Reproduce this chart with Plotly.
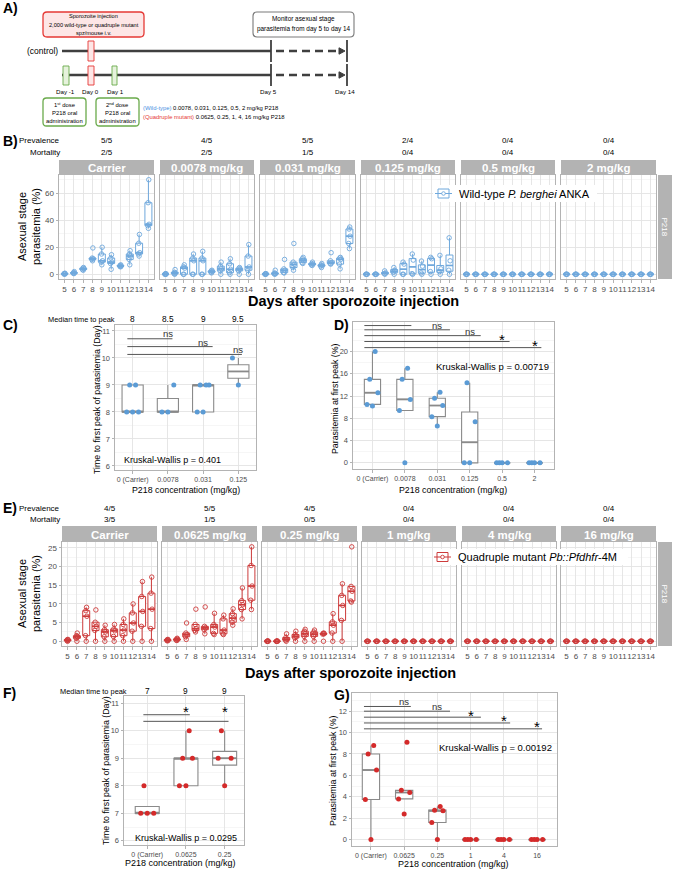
import numpy as np
import plotly.graph_objects as go

W, H = 673, 874
FONT = "Liberation Sans, Arial, Helvetica, sans-serif"

# ======================= DATA =======================
days = [5, 6, 7, 8, 9, 10, 11, 12, 13, 14]
day_labels = ["5", "6", "7", "8", "9", "10", "11", "12", "13", "14"]

# ---- Panel B: wild-type P. berghei ANKA, parasitemia (%) per day, one value per mouse
wt_facets = ["Carrier", "0.0078 mg/kg", "0.031 mg/kg", "0.125 mg/kg", "0.5 mg/kg", "2 mg/kg"]
wt_prevalence = ["5/5", "4/5", "5/5", "2/4", "0/4", "0/4"]
wt_mortality = ["2/5", "2/5", "1/5", "0/4", "0/4", "0/4"]

wt_carrier = [
    [0.1, 0.2, 0.3, 0.5, 0.8], [0.5, 0.8, 1.0, 1.2, 2.0], [3.0, 3.5, 4.0, 4.5, 5.0],
    [10.0, 11.0, 11.5, 12.0, 19.5], [7.0, 9.0, 10.0, 15.0, 20.0], [3.7, 8.0, 9.0, 12.0, 14.5],
    [5.5, 6.0, 6.0, 6.5, 7.0], [7.0, 11.0, 13.5, 15.0, 17.5], [13.5, 15.0, 16.0, 23.0, 29.5],
    [34.0, 36.0, 37.0, 53.0, 70.0],
]
wt_0078 = [
    [0.0, 0.0, 0.1, 0.2, 0.5], [0.0, 0.5, 1.0, 1.5, 3.5], [0.0, 0.0, 4.5, 5.5, 7.0],
    [0.0, 0.0, 10.0, 12.0, 15.0], [0.0, 0.0, 10.0, 12.0, 17.0], [1.0, 1.5, 2.0, 2.5, 3.0],
    [0.0, 2.5, 4.0, 6.0, 9.0], [0.0, 1.2, 3.7, 7.8, 11.5], [0.0, 2.5, 3.7, 4.4, 5.0],
    [0.0, 3.0, 5.4, 13.5, 22.0],
]
wt_031 = [
    [0.0, 0.0, 0.2, 0.3, 0.5], [0.0, 0.3, 0.5, 1.0, 3.0], [1.0, 1.2, 3.0, 4.0, 11.0],
    [3.0, 5.0, 7.3, 9.0, 22.8], [8.0, 8.6, 10.3, 11.5, 12.5], [6.5, 7.0, 7.5, 8.0, 9.0],
    [5.0, 6.0, 6.5, 7.0, 8.0], [7.5, 8.0, 8.5, 10.0, 16.0], [4.0, 7.5, 11.0, 12.0, 12.5],
    [19.0, 22.8, 28.2, 33.5, 35.0],
]
wt_0125 = [
    [0.0, 0.0, 0.0, 0.0], [0.0, 0.0, 0.0, 0.1], [0.0, 0.5, 1.0, 2.5],
    [0.0, 1.5, 3.0, 5.0], [0.0, 0.0, 7.5, 9.0], [0.0, 0.5, 10.5, 15.0],
    [0.0, 1.0, 6.0, 9.8], [0.0, 2.0, 11.5, 12.5], [0.0, 2.0, 4.0, 14.0],
    [0.0, 3.0, 10.0, 27.0],
]
wt_05 = [
    [0, 0, 0, 0], [0, 0, 0, 0], [0, 0, 0, 0], [0, 0, 0, 0], [0, 0, 0, 0],
    [0, 0, 0, 0], [0, 0, 0, 0], [0, 0, 0, 0], [0, 0, 0, 0], [0, 0, 0, 0],
]
wt_2 = [
    [0, 0, 0, 0], [0, 0, 0, 0], [0, 0, 0, 0], [0, 0, 0, 0], [0, 0, 0, 0],
    [0, 0, 0, 0], [0, 0, 0, 0], [0, 0, 0, 0], [0, 0, 0, 0], [0, 0, 0, 0],
]

# ---- Panel C: time to first peak (day), wild-type
c_doses = ["0 (Carrier)", "0.0078", "0.031", "0.125"]
c_median_time = ["8", "8.5", "9", "9.5"]
c_peak_day = [[8, 8, 8, 9, 9], [8, 8, 9], [8, 8, 9, 9, 9], [9, 10]]
c_signif = ["ns", "ns", "ns"]
c_kw = "Kruskal-Wallis p = 0.401"

# ---- Panel D: parasitemia at first peak (%), wild-type
d_doses = ["0 (Carrier)", "0.0078", "0.031", "0.125", "0.5", "2"]
d_peak_para = [[10.2, 10.5, 12.6, 15.0, 20.0], [0.0, 9.4, 11.4, 15.0, 17.0],
               [6.6, 8.3, 10.3, 11.6, 12.7], [0.0, 0.0, 7.4, 14.4],
               [0, 0, 0, 0], [0, 0, 0, 0]]
d_signif = ["ns", "ns", "ns", "*", "*"]
d_kw = "Kruskal-Wallis p = 0.00719"

# ---- Panel E: quadruple mutant Pb::Pfdhfr-4M
mut_facets = ["Carrier", "0.0625 mg/kg", "0.25 mg/kg", "1 mg/kg", "4 mg/kg", "16 mg/kg"]
mut_prevalence = ["4/5", "5/5", "4/5", "0/4", "0/4", "0/4"]
mut_mortality = ["3/5", "1/5", "0/5", "0/4", "0/4", "0/4"]

mut_carrier = [
    [0.0, 0.2, 0.3, 0.4, 0.5], [0.0, 0.8, 1.2, 1.5, 2.2], [0.0, 1.5, 6.7, 8.2, 9.1],
    [0.0, 2.9, 4.0, 5.1, 8.4], [0.0, 1.2, 2.5, 3.1, 4.3], [0.0, 1.3, 2.8, 3.3, 4.5],
    [0.0, 1.5, 3.0, 4.5, 6.0], [0.0, 2.7, 4.9, 7.6, 10.0], [0.0, 4.0, 8.0, 12.0, 16.0],
    [0.0, 3.4, 8.6, 12.9, 17.2],
]
mut_00625 = [
    [0.1, 0.2, 0.3, 0.4, 0.5], [0.2, 0.3, 0.5, 0.6, 0.8], [0.5, 1.2, 1.8, 2.2, 4.9],
    [2.5, 2.9, 3.4, 4.5, 8.6], [2.0, 3.1, 3.6, 4.0, 9.2], [1.8, 2.1, 3.8, 4.5, 7.5],
    [1.8, 2.0, 3.0, 6.0, 7.0], [4.3, 5.1, 6.2, 7.4, 8.7], [6.0, 8.5, 9.8, 10.9, 14.3],
    [8.5, 11.0, 14.8, 20.3, 25.3],
]
mut_025 = [
    [0.0, 0.0, 0.0, 0.0, 0.1], [0.0, 0.0, 0.0, 0.0, 0.1], [0.0, 0.3, 0.5, 1.0, 2.0],
    [0.0, 0.9, 1.3, 1.8, 2.7], [0.0, 1.3, 2.0, 2.7, 3.2], [0.0, 1.3, 1.9, 2.5, 3.0],
    [0.0, 1.9, 2.0, 2.1, 2.2], [0.0, 2.2, 4.3, 5.2, 7.4], [0.0, 5.6, 9.6, 12.3, 15.4],
    [10.5, 10.8, 13.4, 14.7, 25.3],
]
mut_1 = [
    [0, 0, 0, 0], [0, 0, 0, 0], [0, 0, 0, 0], [0, 0, 0, 0], [0, 0, 0, 0],
    [0, 0, 0, 0], [0, 0, 0, 0], [0, 0, 0, 0], [0, 0, 0, 0], [0, 0, 0, 0],
]
mut_4 = [
    [0, 0, 0, 0], [0, 0, 0, 0], [0, 0, 0, 0], [0, 0, 0, 0], [0, 0, 0, 0],
    [0, 0, 0, 0], [0, 0, 0, 0], [0, 0, 0, 0], [0, 0, 0, 0], [0, 0, 0, 0],
]
mut_16 = [
    [0, 0, 0, 0], [0, 0, 0, 0], [0, 0, 0, 0], [0, 0, 0, 0], [0, 0, 0, 0],
    [0, 0, 0, 0], [0, 0, 0, 0], [0, 0, 0, 0], [0, 0, 0, 0], [0, 0, 0, 0],
]

# ---- Panel F: time to first peak (day), mutant
f_doses = ["0 (Carrier)", "0.0625", "0.25"]
f_median_time = ["7", "9", "9"]
f_peak_day = [[7, 7, 7, 8], [8, 8, 9, 9, 10], [8, 9, 9, 10]]
f_signif = ["*", "*"]
f_kw = "Kruskal-Wallis p = 0.0295"

# ---- Panel G: parasitemia at first peak (%), mutant
g_doses = ["0 (Carrier)", "0.0625", "0.25", "1", "4", "16"]
g_peak_para = [[0.0, 3.75, 6.5, 8.0, 8.8], [2.4, 3.8, 4.4, 4.6, 9.1],
               [0.0, 1.6, 2.7, 2.75, 3.1], [0, 0, 0, 0], [0, 0, 0, 0], [0, 0, 0, 0]]
g_signif = ["ns", "ns", "*", "*", "*"]
g_kw = "Kruskal-Wallis p = 0.00192"

# ======================= STYLE / GEOMETRY =======================
WT_BOX = "#6fa8dc"
WT_DOT = "#5b9bd5"
MUT_BOX = "#cd3b3b"
MUT_DOT = "#d42a2a"
SUM_BOX = "#8a8a8a"
GRID = "#e3e3e3"
MINOR = "#f0f0f0"
BORDER = "#b3b3b3"
TICKC = "#4d4d4d"
STRIP = "#b3b3b3"

B_X = [(59, 154), (160, 254), (260, 355), (361, 455), (461, 555), (561, 656)]
B_Y = (175, 279)
B_STRIP = (160, 175)
E_X = [(62, 157), (162, 257), (262, 357), (362, 456), (462, 556), (561, 656)]
E_Y = (542, 646)
E_STRIP = (526, 542)

fig = go.Figure()
axes = {}
shapes = []
annotations = []


def ref(i, a):
    return a if i == 1 else f"{a}{i}"


def key(i, a):
    return f"{a}axis" if i == 1 else f"{a}axis{i}"


def set_axes(i, xd, yd, xrange, xvals, xtext, yrange, ydtick, yminor, yvals=None, show_y=True,
             fs=8, yfs=8):
    common = dict(showline=True, mirror=True, linecolor=BORDER, linewidth=1, zeroline=False,
                  showgrid=True, gridcolor=GRID, gridwidth=0.9,
                  ticklen=2.5, tickwidth=1, tickcolor=BORDER, fixedrange=True, tickangle=0)
    axes[key(i, "x")] = dict(common, domain=[xd[0] / W, xd[1] / W], anchor=ref(i, "y"),
                             range=xrange, tickmode="array", tickvals=xvals, ticktext=xtext,
                             ticks="outside", tickfont=dict(family=FONT, size=fs, color=TICKC))
    ya = dict(common, domain=[1 - yd[1] / H, 1 - yd[0] / H], anchor=ref(i, "x"), range=yrange,
              showticklabels=show_y, ticks="outside" if show_y else "",
              tickfont=dict(family=FONT, size=yfs, color=TICKC),
              minor=dict(tickmode="linear", tick0=0, dtick=yminor, showgrid=True,
                         gridcolor=MINOR, gridwidth=0.6, ticks=""))
    if yvals is None:
        ya.update(tickmode="linear", tick0=0, dtick=ydtick)
    else:
        ya.update(tickmode="array", tickvals=yvals)
    axes[key(i, "y")] = ya


def box_stats(vals):
    v = np.sort(np.asarray(vals, dtype=float))
    q1, med, q3 = np.percentile(v, [25, 50, 75])
    iqr = q3 - q1
    lo = v[v >= q1 - 1.5 * iqr].min()
    hi = v[v <= q3 + 1.5 * iqr].max()
    return q1, med, q3, lo, hi


def add_boxes(i, pos, groups, color, width, lw=1.0, mlw=1.8):
    st = [box_stats(g) for g in groups]
    q1, med, q3, lo, hi = (list(t) for t in zip(*st))
    fig.add_trace(go.Box(x=list(pos), q1=q1, median=med, q3=q3, lowerfence=lo, upperfence=hi,
                         width=width, whiskerwidth=0, boxpoints=False, fillcolor="white",
                         line=dict(color=color, width=lw), xaxis=ref(i, "x"), yaxis=ref(i, "y"),
                         showlegend=False, hoverinfo="skip"))
    mx, my = [], []
    for p, m in zip(pos, med):
        mx += [p - width / 2, p + width / 2, None]
        my += [m, m, None]
    fig.add_trace(go.Scatter(x=mx, y=my, mode="lines", line=dict(color=color, width=mlw),
                             xaxis=ref(i, "x"), yaxis=ref(i, "y"), showlegend=False,
                             hoverinfo="skip"))


JIT = [0.0, -0.6, 0.6, -0.3, 0.3, -0.85, 0.85]


def add_points(i, pos, groups, spread, color, symbol, size, lw=1.0):
    xs, ys = [], []
    for p, g in zip(pos, groups):
        for k, v in enumerate(g):
            xs.append(p + spread * JIT[k % len(JIT)])
            ys.append(v)
    fig.add_trace(go.Scatter(x=xs, y=ys, mode="markers",
                             marker=dict(symbol=symbol, size=size, color=color,
                                         line=dict(color=color, width=lw)),
                             xaxis=ref(i, "x"), yaxis=ref(i, "y"), showlegend=False,
                             hoverinfo="skip"))


def ann(text, x, y, size=9, color="black", xanchor="center", yanchor="middle", bold=False,
        xref="paper", yref="paper", textangle=0, **kw):
    if bold:
        text = f"<b>{text}</b>"
    if xref == "paper":
        x = x / W
    if yref == "paper":
        y = 1 - y / H
    annotations.append(dict(text=text, x=x, y=y, xref=xref, yref=yref, showarrow=False,
                            xanchor=xanchor, yanchor=yanchor, textangle=textangle,
                            font=dict(family=FONT, size=size, color=color), **kw))


def px2p(x, y):
    return x / W, 1 - y / H


def rect(x0, y0, x1, y1, fill="rgba(0,0,0,0)", line=None, lw=1):
    a, b = px2p(x0, y1)
    c, d = px2p(x1, y0)
    shapes.append(dict(type="rect", xref="paper", yref="paper", x0=a, y0=b, x1=c, y1=d,
                       fillcolor=fill,
                       line=dict(color=line or "rgba(0,0,0,0)", width=lw if line else 0),
                       layer="above"))


def line(x0, y0, x1, y1, color="#3f3f3f", lw=1, dash="solid"):
    a, b = px2p(x0, y0)
    c, d = px2p(x1, y1)
    shapes.append(dict(type="line", xref="paper", yref="paper", x0=a, y0=b, x1=c, y1=d,
                       line=dict(color=color, width=lw, dash=dash), layer="above"))


def path_px(pts, fill, color, lw=1):
    s = "M " + " L ".join(f"{x / W:.5f},{1 - y / H:.5f}" for x, y in pts) + " Z"
    shapes.append(dict(type="path", xref="paper", yref="paper", path=s, fillcolor=fill,
                       line=dict(color=color, width=lw), layer="above"))


def rrect(x0, y0, x1, y1, r, fill, color, lw):
    def P(x, y):
        return f"{x / W:.5f},{1 - y / H:.5f}"
    s = (f"M {P(x0 + r, y0)} L {P(x1 - r, y0)} Q {P(x1, y0)} {P(x1, y0 + r)} "
         f"L {P(x1, y1 - r)} Q {P(x1, y1)} {P(x1 - r, y1)} L {P(x0 + r, y1)} "
         f"Q {P(x0, y1)} {P(x0, y1 - r)} L {P(x0, y0 + r)} Q {P(x0, y0)} {P(x0 + r, y0)} Z")
    shapes.append(dict(type="path", xref="paper", yref="paper", path=s, fillcolor=fill,
                       line=dict(color=color, width=lw), layer="above"))


def bracket(i, x0, x1, y, color="#555555", lw=1):
    shapes.append(dict(type="line", xref=ref(i, "x"), yref=ref(i, "y"), x0=x0, x1=x1, y0=y, y1=y,
                       line=dict(color=color, width=lw), layer="above"))


def signif_label(i, x, y, text):
    if text == "*":
        ann(text, x, y, size=15, xref=ref(i, "x"), yref=ref(i, "y"), yshift=-3)
    else:
        ann(text, x, y, size=9.5, color="#333333", xref=ref(i, "x"), yref=ref(i, "y"))


# ======================= PANEL A (schematic) =======================
RED = "#e53935"
GREEN = "#6aaa4b"
DARK = "#3f3f3f"
ann("A)", 1, 8, 14, bold=True, xanchor="left")
rrect(43, 12, 144, 37, 4, "#fde6e6", RED, 1.3)
ann("Sporozoite injection", 93.5, 16.5, 5.6)
ann("2,000 wild-type or quadruple mutant", 93.5, 25, 5.6)
ann("spz/mouse i.v.", 93.5, 33, 5.6)
rrect(253, 12, 354, 37, 4, "white", "#7a7a7a", 1.1)
ann("Monitor asexual stage", 303.5, 19, 6.4)
ann("parasitemia from day 5 to day 14", 303.5, 29.5, 6.4)

for ly, (t0, t1) in [(51, (40, 62)), (75, (64, 86))]:
    line(62, ly, 271, ly, DARK, 2.4)
    line(271, t0, 271, t1, DARK, 1.8)
    line(276, ly, 339, ly, DARK, 2.4, dash="8px,5px")
    path_px([(339, ly - 3.2), (345, ly), (339, ly + 3.2)], DARK, DARK, 1)
    line(347, t0, 347, t1, DARK, 1.8)
ann("(control)", 60, 51, 8.5, xanchor="right")
rect(88, 41, 94, 61, "#fde6e6", RED, 0.9)
rect(63, 66, 69, 85, "#e6f2dc", GREEN, 0.9)
rect(88, 66, 94, 85, "#fde6e6", RED, 0.9)
rect(112, 66, 117, 85, "#e6f2dc", GREEN, 0.9)
for txt, xx in [("Day -1", 65, ), ("Day 0", 90), ("Day 1", 115), ("Day 5", 268), ("Day 14", 345)]:
    ann(txt, xx, 91, 6.2)
for cx, ordl in [(64.5, "1<sup>st</sup> dose"), (117.5, "2<sup>nd</sup> dose")]:
    rrect(cx - 21.5, 98, cx + 21.5, 126, 3.5, "white", GREEN, 1.3)
    ann(ordl, cx, 104, 5.9)
    ann("P218 oral", cx, 113, 5.9)
    ann("administration", cx, 121.5, 5.9)
ann("<span style='color:#4a90e2'>(Wild-type)</span> 0.0078, 0.031, 0.125, 0.5, 2 mg/kg P218",
    141, 108.3, 5.9, xanchor="left")
ann("<span style='color:#e53935'>(Quadruple mutant)</span> 0.0625, 0.25, 1, 4, 16 mg/kg P218",
    141, 117.5, 5.9, xanchor="left")


# ======================= FACETED TIME-COURSE PANELS =======================
def faceted(first_axis, xdoms, ydom, strip, facets, groups_list, prev, mort, yrange, ydtick,
            yminor, box_color, lab_y):
    for k, (xd, groups) in enumerate(zip(xdoms, groups_list)):
        i = first_axis + k
        set_axes(i, xd, ydom, [4.4, 14.6], days, day_labels, yrange, ydtick, yminor,
                 show_y=(k == 0), fs=8, yfs=8)
        add_boxes(i, days, groups, box_color, 0.75, lw=1.0, mlw=1.6)
        add_points(i, days, groups, 0.12, box_color, "circle-open", 4.5, lw=0.9)
        rect(xd[0], strip[0], xd[1], strip[1], STRIP)
        ann(facets[k], (xd[0] + xd[1]) / 2, (strip[0] + strip[1]) / 2 + 0.5, 11.5, color="white",
            bold=True)
        ann(prev[k], 0.5, lab_y[0], 8, xref=f"{ref(i, 'x')} domain")
        ann(mort[k], 0.5, lab_y[1], 8, xref=f"{ref(i, 'x')} domain")
    ann("Prevalence", 62, lab_y[0], 8, xanchor="right")
    ann("Mortality", 62, lab_y[1], 8, xanchor="right")
    rect(658, ydom[0], 672, ydom[1], STRIP)
    ann("P218", 664.5, (ydom[0] + ydom[1]) / 2, 8, color="white", textangle=90)


# ---- B
ann("B)", 1, 141, 14, bold=True, xanchor="left")
faceted(1, B_X, B_Y, B_STRIP, wt_facets, [wt_carrier, wt_0078, wt_031, wt_0125, wt_05, wt_2],
        wt_prevalence, wt_mortality, [-3.5, 73.5], 20, 10, WT_BOX, (141, 152))
ann("Asexual stage<br>parasitemia (%)", 29, 227, 11, textangle=-90)
ann("Days after sporozoite injection", 353, 300.5, 14.5, bold=True)
rect(433, 185, 597, 202, "white")
line(435, 193.5, 452, 193.5, WT_BOX, 1)
rect(438, 189, 449, 198, "white", WT_BOX, 1)
line(438, 193.5, 449, 193.5, WT_BOX, 1)
shapes.append(dict(type="circle", xref="paper", yref="paper", x0=441.7 / W, x1=445.3 / W,
                   y0=1 - 195.3 / H, y1=1 - 191.7 / H, line=dict(color=WT_BOX, width=0.9),
                   fillcolor="white", layer="above"))
ann("Wild-type <i>P. berghei</i> ANKA", 457, 193.5, 11, xanchor="left")

# ---- E
ann("E)", 1, 508, 14, bold=True, xanchor="left")
faceted(9, E_X, E_Y, E_STRIP, mut_facets, [mut_carrier, mut_00625, mut_025, mut_1, mut_4, mut_16],
        mut_prevalence, mut_mortality, [-1.27, 26.6], 5, 2.5, MUT_BOX, (508, 519))
ann("Asexual stage<br>parasitemia (%)", 29, 594, 11, textangle=-90)
ann("Days after sporozoite injection", 350, 672.5, 14.5, bold=True)
rect(433, 549, 628, 565, "white")
line(434, 557, 451, 557, MUT_BOX, 1)
rect(437, 552.5, 448, 561.5, "white", MUT_BOX, 1)
line(437, 557, 448, 557, MUT_BOX, 1)
shapes.append(dict(type="circle", xref="paper", yref="paper", x0=440.7 / W, x1=444.3 / W,
                   y0=1 - 558.8 / H, y1=1 - 555.2 / H, line=dict(color=MUT_BOX, width=0.9),
                   fillcolor="white", layer="above"))
ann("Quadruple mutant <i>Pb::Pfdhfr</i>-4M", 456, 557, 11, xanchor="left")


# ======================= SUMMARY PANELS =======================
def summary(i, xd, yd, cats, groups, xrange, yrange, ydtick, yminor, dot, bw, yvals=None):
    pos = list(range(len(cats)))
    set_axes(i, xd, yd, xrange, pos, cats, yrange, ydtick, yminor, yvals=yvals, fs=7, yfs=7.5)
    add_boxes(i, pos, groups, SUM_BOX, bw, lw=1.1, mlw=1.8)
    add_points(i, pos, groups, 0.28, dot, "circle", 5, lw=0)
    return pos


# ---- C
ann("C)", 1, 325, 14, bold=True, xanchor="left")
cpos = summary(7, (115, 256), (325, 470), c_doses, c_peak_day, [-0.5, 3.5], [5.85, 11.22], 1, 0.5,
               WT_DOT, 0.6)
ann("Median time to peak", 117, 319, 7.4, xanchor="right")
for p, t in zip(cpos, c_median_time):
    ann(t, p, 319, 8.3, xref="x7")
for j, (x1, yl, ylab) in enumerate(zip([1.13, 2.27, 3.1], [10.71, 10.42, 10.13],
                                       [10.89, 10.57, 10.31])):
    bracket(7, -0.15, x1, yl)
    signif_label(7, cpos[j + 1], ylab, c_signif[j])
ann(c_kw, 173, 460, 9)
ann("Time to first peak of parasitemia (Day)", 97, 399, 8.8, textangle=-90)
ann("P218 concentration (mg/kg)", 186, 490, 8.8)

# ---- D
ann("D)", 332, 325, 14, bold=True, xanchor="left")
dpos = summary(8, (353, 554), (322, 469), d_doses, d_peak_para, [-0.6, 5.6], [-1.1, 25.3], 4, 2,
               WT_DOT, 0.5, yvals=[0, 4, 8, 12, 16, 20])
for j, (x1, yl, ylab) in enumerate(zip([1.2, 2.39, 3.34, 4.23, 5.21],
                                       [24.66, 23.9, 22.85, 21.8, 20.7],
                                       [25.45, 24.6, 23.55, 22.7, 21.6])):
    bracket(8, -0.25, x1, yl)
    signif_label(8, dpos[j + 1], ylab, d_signif[j])
ann(d_kw, 551, 366, 9.5, xanchor="right")
ann("Parasitemia at first peak (%)", 335, 399, 8.8, textangle=-90)
ann("P218 concentration (mg/kg)", 453, 490, 8.8)

# ---- F
ann("F)", 1, 693, 14, bold=True, xanchor="left")
fpos = summary(15, (124, 244), (696, 845), f_doses, f_peak_day, [-0.6, 2.5], [5.85, 11.26], 1,
               0.5, MUT_DOT, 0.62)
ann("Median time to peak", 129, 691, 7.4, xanchor="right")
for p, t in zip(fpos, f_median_time):
    ann(t, p, 691, 8.3, xref="x15")
for j, (x1, yl, ylab) in enumerate(zip([1.1, 2.1], [10.58, 10.34], [10.8, 10.8])):
    bracket(15, -0.1, x1, yl)
    signif_label(15, fpos[j + 1], ylab, f_signif[j])
ann(f_kw, 186, 838, 9)
ann("Time to first peak of parasitemia (Day)", 106, 771, 8.8, textangle=-90)
ann("P218 concentration (mg/kg)", 180, 863, 9)

# ---- G
ann("G)", 332, 695, 14, bold=True, xanchor="left")
gpos = summary(16, (352, 557), (693, 846), g_doses, g_peak_para, [-0.57, 5.6], [-0.6, 13.7], 2,
               1, MUT_DOT, 0.52)
for j, (x1, yl, ylab) in enumerate(zip([1.2, 2.38, 3.31, 4.19, 5.15],
                                       [12.44, 12.0, 11.44, 10.9, 10.35],
                                       [12.9, 12.44, 11.88, 11.41, 10.86])):
    bracket(16, -0.21, x1, yl)
    signif_label(16, gpos[j + 1], ylab, g_signif[j])
ann(g_kw, 554, 747, 9.5, xanchor="right")
ann("Parasitemia at first peak (%)", 333, 771, 8.8, textangle=-90)
ann("P218 concentration (mg/kg)", 453, 864, 9)

fig.update_layout(
    width=W, height=H, autosize=False,
    margin=dict(l=0, r=0, t=0, b=0, pad=0),
    paper_bgcolor="white", plot_bgcolor="white",
    showlegend=False, shapes=shapes, annotations=annotations,
    font=dict(family=FONT, color="black"),
    **axes,
)
fig.write_html(
    "out.html",
    config={"displayModeBar": False, "staticPlot": True},
    post_script="document.documentElement.style.margin='0';document.body.style.margin='0';"
                "document.body.style.padding='0';document.body.style.overflow='hidden';",
)
